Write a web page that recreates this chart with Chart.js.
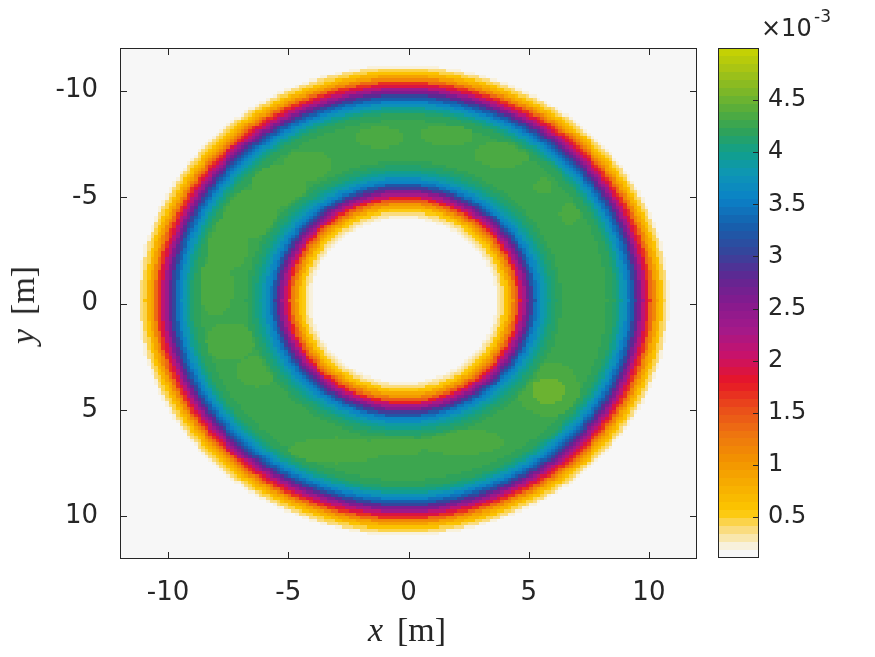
<!DOCTYPE html>
<html>
<head>
<meta charset="utf-8">
<script src="https://cdn.jsdelivr.net/npm/chart.js@4.4.1/dist/chart.umd.min.js"></script>
<style>
  body { margin: 0; background: #fff; width: 875px; height: 657px; position: relative; overflow: hidden; color: #262626; }
  canvas { position: absolute; top: 0; }
  #main { left: 0; }
  #cbar { left: 700px; }
  .lab { position: absolute; font-family: "Liberation Serif", "DejaVu Serif", serif; font-size: 34px; white-space: nowrap; color: #262626; transform: translate(-50%, -50%); }
  .lab i { margin-right: 14px; }
  #ylab { transform: translate(-50%, -50%) rotate(-90deg); }
  .mult { position: absolute; font-family: "DejaVu Sans", sans-serif; color: #262626; white-space: nowrap; }
</style>
</head>
<body>
<canvas id="main" width="875" height="657"></canvas>
<canvas id="cbar" width="175" height="657"></canvas>
<div class="lab" id="xlab" style="left:407px;top:630px"><i>x</i>[m]</div>
<div class="lab" id="ylab" style="left:23px;top:305px"><i>y</i>[m]</div>
<div class="mult" style="left:761px;top:16px;font-size:24px;line-height:24px">×10</div>
<div class="mult" style="left:814px;top:8px;font-size:17px;line-height:17px">-3</div>
<script>
// tick values
const xTicks = [-10, -5, 0, 5, 10];
const yTicks = [-10, -5, 0, 5, 10];
const cbTicks = [0.5, 1, 1.5, 2, 2.5, 3, 3.5, 4, 4.5];

// radial profile of the ring (values x1e-3)
const ringCenter = [-0.2, -0.15];
const profileRadius = [3.5, 3.6, 3.7, 3.8, 3.9, 4.0, 4.1, 4.2, 4.3, 4.4, 4.5, 4.6, 4.7, 4.8, 4.9,
  5.0, 5.1, 5.2, 5.3, 5.4, 5.5, 5.6, 5.7, 5.8, 5.9, 6.0, 6.1, 6.2, 6.3, 6.4, 6.5, 6.6, 6.7, 6.8, 6.9,
  7.0, 7.1, 7.2, 7.3, 7.4, 7.5, 7.6, 7.7, 7.8, 7.9, 8.0, 8.1, 8.2, 8.3, 8.4, 8.5, 8.6, 8.7, 8.8, 8.9,
  9.0, 9.1, 9.2, 9.3, 9.4, 9.5, 9.6, 9.7, 9.8, 9.9, 10.0, 10.1, 10.2, 10.3, 10.4, 10.5, 10.6, 10.7,
  10.8, 10.9, 11.0, 11.1, 11.2, 11.3, 11.4, 11.5];
const profileValue = [0.11, 0.11, 0.12, 0.15, 0.22, 0.30, 0.40, 0.50, 0.62, 0.80, 1.00, 1.22, 1.48, 1.78, 2.05,
  2.30, 2.55, 2.78, 3.00, 3.22, 3.40, 3.55, 3.68, 3.78, 3.88, 3.96, 4.03, 4.09, 4.14, 4.18, 4.21, 4.24, 4.26, 4.27, 4.27,
  4.28, 4.28, 4.28, 4.28, 4.28, 4.28, 4.28, 4.28, 4.28, 4.28, 4.28, 4.28, 4.27, 4.27, 4.25, 4.23, 4.20, 4.16, 4.10, 4.02,
  3.94, 3.85, 3.74, 3.60, 3.44, 3.26, 3.06, 2.85, 2.62, 2.40, 2.15, 1.90, 1.64, 1.38, 1.14, 0.92, 0.74, 0.58,
  0.45, 0.34, 0.25, 0.18, 0.14, 0.12, 0.11, 0.11];

// lighter patches in the green band: centre x, centre y, half widths, extra value
const patchX  = [-7.5, -6.6, -5.4, -4.2, -1.2, 1.6, 3.9, 5.6, 6.7, -8.0, -7.4, -6.3, -3.0, -0.5, 2.2, 5.8, 5.8];
const patchY  = [-2.8, -4.2, -5.5, -6.5, -7.8, -7.9, -7.0, -5.5, -4.2, -0.8, 1.8, 3.2, 6.9, 6.7, 6.5, 4.0, 4.1];
const patchRx = [0.9, 1.1, 1.2, 1.0, 1.0, 1.1, 1.2, 0.4, 0.4, 0.7, 1.0, 0.9, 2.0, 1.2, 1.8, 1.3, 0.7];
const patchRy = [1.2, 1.1, 1.0, 0.7, 0.5, 0.5, 0.6, 0.4, 0.5, 1.4, 0.9, 0.7, 0.6, 0.5, 0.6, 1.3, 0.6];
const patchAdd = [0.09, 0.09, 0.09, 0.09, 0.09, 0.09, 0.09, 0.09, 0.09, 0.09, 0.09, 0.09, 0.09, 0.09, 0.09, 0.09, 0.22];

// colour map
const vMin = 0.107, vMax = 5.0, nLevels = 64;
const cmapVals = [0.107, 0.18, 0.26, 0.4, 0.55, 0.8, 1.05, 1.3, 1.55, 1.8, 2.05, 2.3, 2.55, 2.8, 3.05, 3.3, 3.55, 3.8, 4.0, 4.2, 4.4, 4.6, 4.8, 5.0];
const cmapCols = ['#f7f7f7', '#f7f7f7', '#f8ecc4', '#fbd970', '#fcc700', '#f7ae00', '#f29200', '#ee7410', '#e94d1a', '#e71526',
  '#c8126a', '#a3198a', '#861a8e', '#5f2792', '#33469c', '#1660ad', '#0a82c7', '#0e96b4', '#109f8c', '#2ea25a',
  '#55ad3c', '#80b826', '#a8c414', '#cad400'];

function hexRgb(h) { return [1, 3, 5].map(i => parseInt(h.substr(i, 2), 16)); }
const cmapRgb = cmapCols.map(hexRgb);
function cmapAt(v) {
  let i = 0;
  while (i < cmapVals.length - 2 && v > cmapVals[i + 1]) i++;
  const t = Math.max(0, Math.min(1, (v - cmapVals[i]) / (cmapVals[i + 1] - cmapVals[i])));
  const a = cmapRgb[i], b = cmapRgb[i + 1];
  return 'rgb(' + a.map((c, k) => Math.round(c + (b[k] - c) * t)).join(',') + ')';
}
const levelColors = [];
for (let i = 0; i < nLevels; i++) levelColors.push(cmapAt(vMin + (i + 0.5) * (vMax - vMin) / nLevels));
function colorOf(v) {
  let l = Math.floor((v - vMin) / (vMax - vMin) * nLevels);
  l = Math.max(0, Math.min(nLevels - 1, l));
  return levelColors[l];
}

// grid cells
const cell = 0.15;
const cells = [];
for (let i = 0; i <= 160; i++) {
  for (let j = 0; j <= 160; j++) {
    const x = -12 + i * cell, y = -12 + j * cell;
    const r = Math.hypot(x - ringCenter[0], y - ringCenter[1]);
    let v = 0.11;
    if (r >= profileRadius[0] && r <= profileRadius[profileRadius.length - 1]) {
      let k = 0, best = 1e9;
      profileRadius.forEach((pr, idx) => { const d = Math.abs(pr - r); if (d < best) { best = d; k = idx; } });
      v = profileValue[k];
    }
    if (v >= 4.2) {
      let add = 0;
      for (let p = 0; p < patchX.length; p++) {
        const dx = (x - patchX[p]) / patchRx[p], dy = (y - patchY[p]) / patchRy[p];
        if (dx * dx + dy * dy <= 1) add = Math.max(add, patchAdd[p]);
      }
      v += add;
    }
    cells.push({ x: x, y: y, v: v });
  }
}

const ink = '#262626';
const sans = '"DejaVu Sans", sans-serif';

const heatPlugin = {
  id: 'heat',
  beforeDatasetsDraw(chart) {
    const { ctx, chartArea: a, scales: { x: xs, y: ys } } = chart;
    ctx.save();
    ctx.beginPath(); ctx.rect(a.left, a.top, a.right - a.left, a.bottom - a.top); ctx.clip();
    const h = cell / 2;
    chart.data.datasets[0].data.forEach(c => {
      const x0 = Math.round(xs.getPixelForValue(c.x - h)), x1 = Math.round(xs.getPixelForValue(c.x + h));
      const ya = Math.round(ys.getPixelForValue(c.y - h)), yb = Math.round(ys.getPixelForValue(c.y + h));
      ctx.fillStyle = colorOf(c.v);
      ctx.fillRect(x0, Math.min(ya, yb), x1 - x0, Math.abs(yb - ya));
    });
    ctx.restore();
  },
  afterDraw(chart) {
    const { ctx, chartArea: a, scales: { x: xs, y: ys } } = chart;
    ctx.save();
    ctx.strokeStyle = ink; ctx.lineWidth = 1;
    ctx.strokeRect(a.left + 0.5, a.top + 0.5, a.right - a.left - 1, a.bottom - a.top - 1);
    ctx.beginPath();
    xTicks.forEach(v => {
      const p = Math.round(xs.getPixelForValue(v)) + 0.5;
      ctx.moveTo(p, a.bottom); ctx.lineTo(p, a.bottom - 7);
      ctx.moveTo(p, a.top); ctx.lineTo(p, a.top + 7);
    });
    yTicks.forEach(v => {
      const p = Math.round(ys.getPixelForValue(v)) + 0.5;
      ctx.moveTo(a.left, p); ctx.lineTo(a.left + 7, p);
      ctx.moveTo(a.right, p); ctx.lineTo(a.right - 7, p);
    });
    ctx.stroke();
    ctx.restore();
  }
};

new Chart(document.getElementById('main'), {
  type: 'scatter',
  data: { datasets: [{ data: cells, pointRadius: 0, pointHoverRadius: 0 }] },
  plugins: [heatPlugin],
  options: {
    responsive: false, animation: false, events: [],
    layout: { padding: { left: 0, top: 48, right: 178, bottom: 0 } },
    plugins: { legend: { display: false }, tooltip: { enabled: false } },
    scales: {
      x: {
        type: 'linear', min: -12, max: 12,
        afterBuildTicks: s => { s.ticks = xTicks.map(v => ({ value: v })); },
        afterFit: s => { s.height = 98; },
        grid: { display: false }, border: { display: false },
        ticks: { padding: 11, color: ink, maxRotation: 0, font: { size: 26, family: sans } }
      },
      y: {
        type: 'linear', min: -12, max: 12, reverse: true,
        afterBuildTicks: s => { s.ticks = yTicks.map(v => ({ value: v })); },
        afterFit: s => { s.width = 120; },
        grid: { display: false }, border: { display: false },
        ticks: { padding: 14, color: ink, font: { size: 26, family: sans } }
      }
    }
  }
});

const cbarPlugin = {
  id: 'cbarFill',
  beforeDatasetsDraw(chart) {
    const { ctx, chartArea: a, scales: { y: ys } } = chart;
    ctx.save();
    for (let i = 0; i < nLevels; i++) {
      const lo = vMin + i * (vMax - vMin) / nLevels, hi = vMin + (i + 1) * (vMax - vMin) / nLevels;
      const y0 = Math.round(ys.getPixelForValue(lo)), y1 = Math.round(ys.getPixelForValue(hi));
      ctx.fillStyle = levelColors[i];
      ctx.fillRect(a.left, y1, a.right - a.left, y0 - y1);
    }
    ctx.restore();
  },
  afterDraw(chart) {
    const { ctx, chartArea: a, scales: { y: ys } } = chart;
    ctx.save();
    ctx.strokeStyle = ink; ctx.lineWidth = 1;
    ctx.strokeRect(a.left + 0.5, a.top + 0.5, a.right - a.left - 1, a.bottom - a.top - 1);
    ctx.beginPath();
    cbTicks.forEach(v => {
      const p = Math.round(ys.getPixelForValue(v)) + 0.5;
      ctx.moveTo(a.right, p); ctx.lineTo(a.right - 6, p);
    });
    ctx.stroke();
    ctx.restore();
  }
};

new Chart(document.getElementById('cbar'), {
  type: 'scatter',
  data: { datasets: [{ data: [], pointRadius: 0 }] },
  plugins: [cbarPlugin],
  options: {
    responsive: false, animation: false, events: [],
    layout: { padding: { left: 18, top: 48, right: 0, bottom: 99 } },
    plugins: { legend: { display: false }, tooltip: { enabled: false } },
    scales: {
      x: { type: 'linear', min: 0, max: 1, display: false },
      y: {
        type: 'linear', position: 'right', min: vMin, max: vMax,
        afterBuildTicks: s => { s.ticks = cbTicks.map(v => ({ value: v })); },
        afterFit: s => { s.width = 116; },
        grid: { display: false }, border: { display: false },
        ticks: { padding: 1, color: ink, font: { size: 24, family: sans }, callback: v => String(v) }
      }
    }
  }
});
</script>
</body>
</html>
